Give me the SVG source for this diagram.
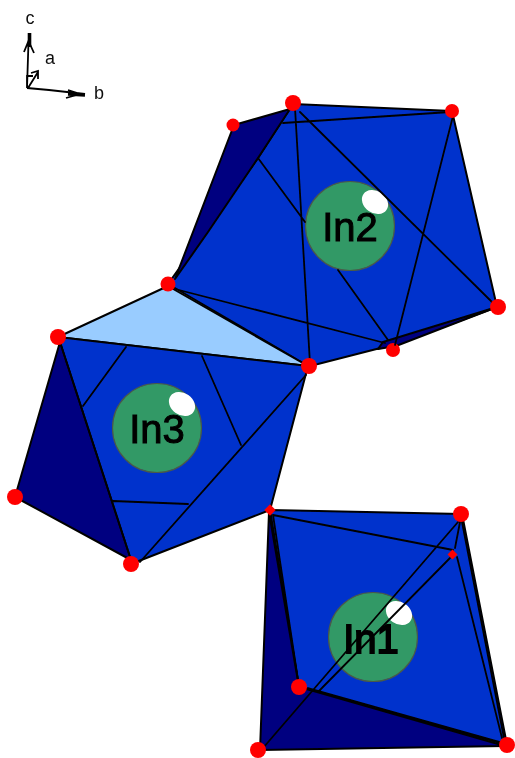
<svg xmlns="http://www.w3.org/2000/svg" width="515" height="758" viewBox="0 0 515 758">
<defs>
<style>
.m{fill:#0033cc;stroke:#000;stroke-width:2;stroke-linejoin:round}
.d{fill:#000080;stroke:#000;stroke-width:2;stroke-linejoin:round}
.l{fill:#99ccff;stroke:#000;stroke-width:2;stroke-linejoin:round}
.e{fill:none;stroke:#000;stroke-width:1.8;stroke-linecap:round}
.v{fill:#ff0000}
.a{fill:#339966;stroke:#4a5a4a;stroke-width:1.2}
.h{fill:#fff}
.t{font-family:"Liberation Sans",Arial,sans-serif;font-size:40px;fill:#000;stroke:#000;stroke-width:1;text-anchor:middle}
.b{stroke-width:1.800}
.x{font-family:"Liberation Sans",Arial,sans-serif;font-size:18px;fill:#111;text-anchor:middle}
.ax{fill:none;stroke:#000;stroke-width:1.8}
.axt{fill:none;stroke:#000;stroke-width:3.6}
</style>
<filter id="soft" x="0" y="0" width="100%" height="100%" filterUnits="objectBoundingBox"><feGaussianBlur stdDeviation="0.45"/></filter>
</defs>
<rect width="515" height="758" fill="#fff"/>
<g filter="url(#soft)">
<g id="axes">
<path class="ax" d="M27 88L28.500 42M24 52L28.500 41L34 53M27 88L49 90L85 94M66 98L80 94L68 90M28 88L38 72M31 73L38 71L38 79M27 88V76L33 76"/>
<path class="axt" d="M29.500 33V47M68 94L85 95"/>
<text class="x" x="30" y="24">c</text>
<text class="x" x="50" y="64">a</text>
<text class="x" x="99" y="99">b</text>
</g>
<g id="In2">
<polygon class="m" points="293,104 452,111 497,307 400,343 318,364 308,366 168,284 258,158"/>
<polygon class="d" points="234,125 290,109 258,158 208,232 175,279"/>
<polygon class="d" points="383,342 497,307 396,346 378,349"/>
<circle class="v" cx="393" cy="350" r="7"/>
<circle class="a" cx="350" cy="226" r="44.500"/>
<ellipse class="h" cx="375" cy="202" rx="14" ry="11" transform="rotate(35 375 202)"/>
<text class="t" x="350" y="241">In2</text>
</g>
<g id="In3">
<polygon class="l" points="58,337 168,286 308,366"/>
<polygon class="m" points="58,337 308,366 270,510 131,564"/>
<polygon class="d" points="60,342 131,560 15,497"/>
<circle class="a" cx="157" cy="428" r="44.500"/>
<ellipse class="h" cx="182" cy="404" rx="14" ry="11" transform="rotate(35 182 404)"/>
<text class="t" x="157" y="443">In3</text>
</g>
<g id="In1">
<polygon class="m" points="270,510 462,514 507,745 317,692 299,687"/>
<polygon class="d" points="269,512 299,687 317,692 505,746 260,750"/>
<circle class="a" cx="373" cy="637" r="44.500"/>
<ellipse class="h" cx="399" cy="613" rx="14" ry="11" transform="rotate(35 399 613)"/>
<text class="t b" x="371" y="653">In1</text>
</g>
<g id="connectors">
<path class="e" d="M295 108L310 364M300 112L495 305M283 123L450 112M453 116L395 345M258 158L305 222M338 270L388 340M175 289L385 343"/>
<path class="e" d="M126 347L83 406M202 356L241 445M113 501L188 504M306 375L140 562M60 342L131 560"/>
<path class="e" d="M273 515L453 550M273 515L298 680M458 522L263 748M450 558L318 692M308 688L500 742M462 522L504 738M457 557L502 738M460 522L455 548"/>
</g>
<g id="vertices">
<circle class="v" cx="233" cy="125" r="6.500"/>
<circle class="v" cx="293" cy="103" r="8"/>
<circle class="v" cx="452" cy="111" r="7"/>
<circle class="v" cx="498" cy="307" r="8"/>
<circle class="v" cx="168" cy="284" r="7.500"/>
<circle class="v" cx="309" cy="366" r="8"/>
<circle class="v" cx="58" cy="337" r="8"/>
<circle class="v" cx="15" cy="497" r="8"/>
<circle class="v" cx="131" cy="564" r="8"/>
<rect class="v" x="266" y="506" width="8" height="8" transform="rotate(45 270 510)"/>
<circle class="v" cx="461" cy="514" r="8"/>
<rect class="v" x="449" y="551" width="7" height="7" transform="rotate(45 452.500 554.500)"/>
<circle class="v" cx="299" cy="687" r="8"/>
<circle class="v" cx="258" cy="750" r="8"/>
<circle class="v" cx="507" cy="745" r="8"/>
</g>
</g>
</svg>
